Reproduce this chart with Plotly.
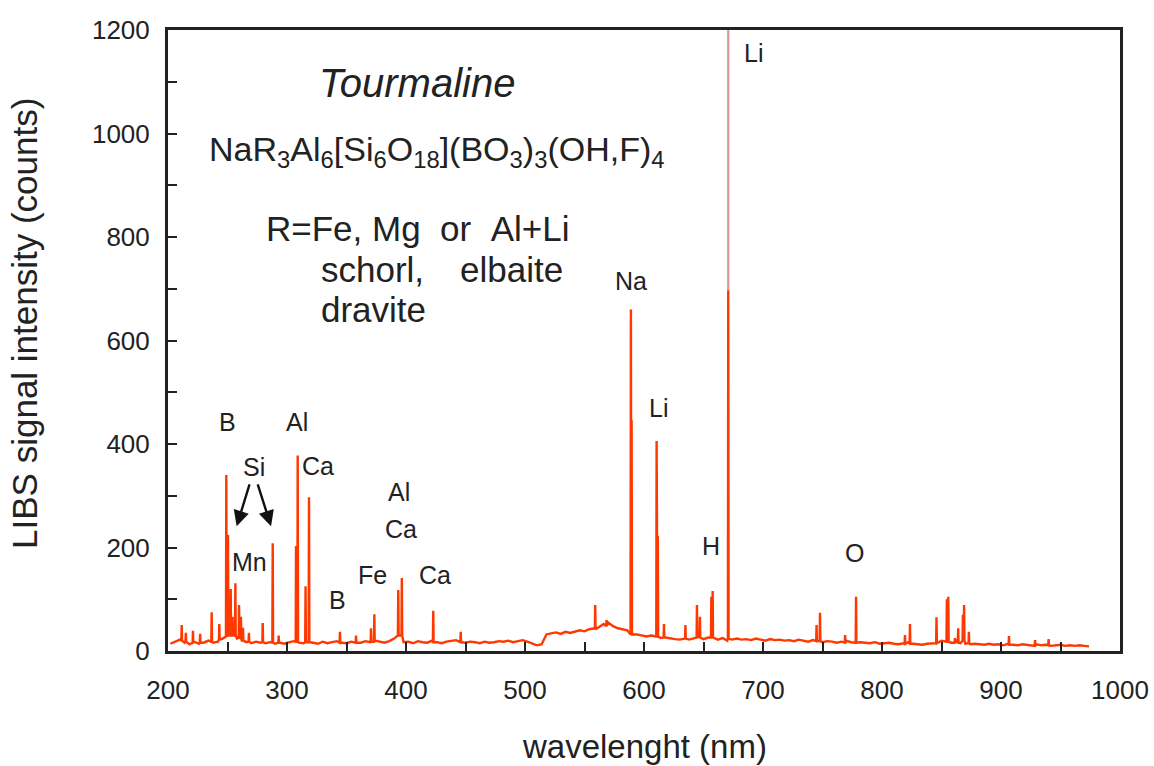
import numpy as np
import plotly.graph_objects as go

# ---------------- data ----------------
baseline_start_nm = 202
baseline_step_nm = 4
baseline_counts = [
    14, 18, 22, 16, 13, 18, 14, 16, 20, 16,
    18, 24, 22, 28, 24, 20, 17, 15, 18, 16,
    15, 17, 14, 16, 14, 17, 19, 16, 15, 17,
    16, 14, 18, 15, 17, 19, 16, 15, 18, 17,
    16, 19, 17, 20, 18, 16, 19, 24, 22, 17,
    18, 15, 19, 17, 16, 20, 17, 15, 18, 19,
    21, 17, 16, 18, 17, 15, 18, 16, 17, 19,
    18, 20, 17, 19, 21, 18, 14, 11, 13, 32,
    34, 36, 33, 37, 35, 38, 40, 38, 42, 44,
    46, 52, 55, 48, 44, 42, 40, 38, 32, 30,
    28, 30, 27, 25, 26, 24, 23, 22, 24, 22,
    25, 28, 23, 26, 24, 22, 25, 20, 22, 24,
    22, 23, 21, 24, 22, 20, 23, 21, 22, 20,
    21, 19, 22, 20, 18, 21, 19, 17, 19, 18,
    16, 18, 20, 17, 15, 17, 16, 15, 17, 14,
    15, 16, 14, 13, 15, 17, 14, 13, 12, 14,
    15, 18, 20, 17, 16, 22, 15, 14, 13, 14,
    13, 12, 14, 12, 13, 11, 14, 12, 11, 13,
    12, 10, 13, 11, 12, 10, 11, 12, 10, 11,
    10, 11, 10, 9,
]

peak_nm = [211.5, 215.0, 221.0, 227.0, 236.7, 243.1, 249.0, 250.4, 252.7, 254.2,
           256.6, 259.7, 261.3, 263.0, 268.0, 279.6, 288.0, 293.0, 307.6, 309.0,
           315.6, 318.5, 344.5, 358.0, 370.6, 373.4, 393.5, 396.5, 422.9, 446.0,
           559.0, 568.5, 589.0, 589.6, 610.6, 611.6, 616.8, 634.8, 644.5, 647.0,
           656.6, 657.7, 670.8, 745.0, 747.9, 769.0, 778.2, 819.3, 823.5, 845.8,
           854.5, 855.7, 861.3, 864.0, 868.0, 869.0, 873.0, 906.7, 928.6, 940.0]
peak_counts = [50, 35, 39, 33, 75, 52, 340, 224, 120, 66,
               131, 89, 66, 45, 35, 54, 208, 30, 203, 378,
               125, 297, 37, 30, 44, 71, 118, 141, 78, 37,
               89, 60, 660, 446, 406, 222, 52, 50, 89, 66,
               105, 116, 697, 50, 74, 31, 105, 31, 52, 65,
               100, 105, 25, 44, 70, 89, 37, 29, 21, 23]
peak_base = [20, 18, 16, 16, 18, 22, 28, 30, 30, 30,
             30, 26, 24, 20, 18, 17, 16, 16, 18, 18,
             17, 17, 16, 16, 18, 18, 30, 30, 17, 17,
             42, 48, 32, 32, 28, 28, 26, 24, 26, 26,
             26, 26, 24, 19, 19, 16, 16, 14, 14, 15,
             18, 18, 16, 16, 20, 20, 15, 12, 10, 11]

li_sat_nm = [670.8, 670.8]
li_sat_counts = [697, 1250]

x_ticks = [200, 300, 400, 500, 600, 700, 800, 900, 1000]
y_ticks = [0, 200, 400, 600, 800, 1000, 1200]

# element labels: (text, nm, counts)
labels = [
    ("B", 249.6, 442), ("Al", 308.4, 442), ("Si", 272.3, 356), ("Ca", 326.0, 357),
    ("Mn", 268.9, 172), ("B", 342.4, 98), ("Fe", 371.8, 147), ("Al", 394.1, 308),
    ("Ca", 395.4, 236), ("Ca", 424.0, 146), ("Na", 589.0, 715), ("Li", 612.2, 469),
    ("H", 656.3, 203), ("Li", 691.6, 1156), ("O", 776.5, 190),
]

# ---------------- build spectrum ----------------
grid_nm = baseline_start_nm + baseline_step_nm * np.arange(len(baseline_counts))
pts = []
pk = np.array(peak_nm)
for g, c in zip(grid_nm, baseline_counts):
    if np.min(np.abs(pk - g)) > 0.5:
        pts.append((float(g), c))
hw = 0.3
for n, c, b in zip(peak_nm, peak_counts, peak_base):
    pts.append((n - hw, b))
    pts.append((n, c))
    pts.append((n + hw, b))
pts.sort(key=lambda p: p[0])
spec_x = [p[0] for p in pts]
spec_y = [p[1] for p in pts]

FONT = "Liberation Sans, Arial, Helvetica, sans-serif"
TXT = "#222222"

fig = go.Figure()
fig.add_trace(go.Scatter(x=li_sat_nm, y=li_sat_counts, mode="lines",
                         line=dict(color="#d9988c", width=2.2), hoverinfo="skip"))
fig.add_trace(go.Scatter(x=spec_x, y=spec_y, mode="lines",
                         line=dict(color="#ff3800", width=2.4)))

ann = []
for t, x, y in labels:
    ann.append(dict(x=x, y=y, xref="x", yref="y", text=t, showarrow=False,
                    font=dict(size=25, color=TXT, family=FONT)))

# arrows from "Si"
for (hx, hy, tx, ty) in [(257.7, 241, 268.9, 325), (286.6, 241, 275.0, 325)]:
    ann.append(dict(x=hx, y=hy, ax=tx, ay=ty, xref="x", yref="y", axref="x", ayref="y",
                    text="", showarrow=True, arrowhead=2, arrowsize=1.3,
                    arrowwidth=2.4, arrowcolor="#111111"))

NB = "\u00a0"
ann += [
    dict(x=325, y=1098, xref="x", yref="y", xanchor="left", yanchor="middle",
         text="<i>Tourmaline</i>", showarrow=False,
         font=dict(size=40, color=TXT, family=FONT)),
    dict(x=233.0, y=965, xref="x", yref="y", xanchor="left", yanchor="middle",
         text="NaR<sub>3</sub>Al<sub>6</sub>[Si<sub>6</sub>O<sub>18</sub>](BO<sub>3</sub>)<sub>3</sub>(OH,F)<sub>4</sub>",
         showarrow=False, font=dict(size=34, color=TXT, family=FONT)),
    dict(x=281.0, y=817, xref="x", yref="y", xanchor="left", yanchor="middle",
         text=f"R=Fe, Mg{NB}{NB}or{NB}{NB}Al+Li", showarrow=False,
         font=dict(size=35, color=TXT, family=FONT)),
    dict(x=326.5, y=738, xref="x", yref="y", xanchor="left", yanchor="middle",
         text="schorl,", showarrow=False, font=dict(size=35, color=TXT, family=FONT)),
    dict(x=534.0, y=738, xref="x", yref="y", xanchor="right", yanchor="middle",
         text="elbaite", showarrow=False, font=dict(size=35, color=TXT, family=FONT)),
    dict(x=326.5, y=660, xref="x", yref="y", xanchor="left", yanchor="middle",
         text="dravite", showarrow=False, font=dict(size=35, color=TXT, family=FONT)),
    dict(x=0.5, y=-0.153, xref="paper", yref="paper", xanchor="center", yanchor="middle",
         text="wavelenght (nm)", showarrow=False, font=dict(size=33, color=TXT, family=FONT)),
    dict(x=-0.150, y=0.527, xref="paper", yref="paper", xanchor="center", yanchor="middle",
         text="LIBS signal intensity (counts)", textangle=-90, showarrow=False,
         font=dict(size=35, color=TXT, family=FONT)),
]

axis_common = dict(showgrid=False, zeroline=False, showline=True, linecolor="#222222",
                   linewidth=3, mirror=True, ticks="inside", ticklen=9, tickwidth=2,
                   tickcolor="#222222", tickfont=dict(size=26, color=TXT, family=FONT),
                   automargin=False)

fig.update_layout(
    width=1154, height=766,
    margin=dict(l=168, r=34, t=30, b=115),
    paper_bgcolor="white", plot_bgcolor="white",
    showlegend=False,
    annotations=ann,
    xaxis=dict(range=[200, 1000], tickvals=x_ticks, ticklabelstandoff=14,
               minor=dict(dtick=50, ticks="inside", ticklen=9, tickwidth=2, tickcolor="#222222"),
               **axis_common),
    yaxis=dict(range=[0, 1200], tickvals=y_ticks, ticklabelstandoff=10,
               minor=dict(dtick=100, ticks="inside", ticklen=9, tickwidth=2, tickcolor="#222222"),
               **axis_common),
)

fig.write_html("out.html")
